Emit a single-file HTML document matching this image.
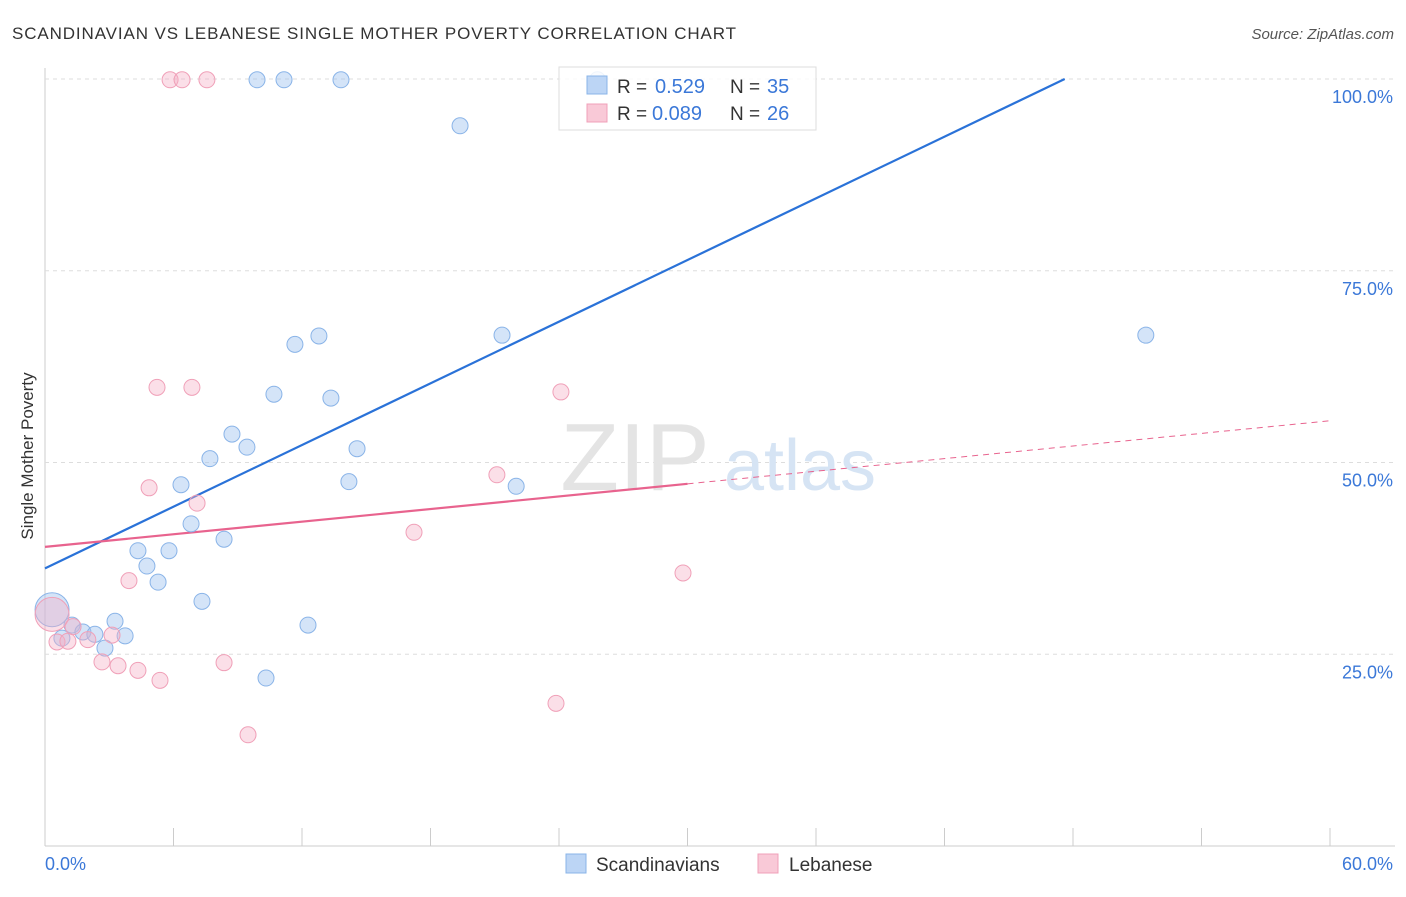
<!DOCTYPE html>
<html><head><meta charset="utf-8"><style>
body{margin:0;background:#fff;font-family:"Liberation Sans",sans-serif;}
svg text{font-family:"Liberation Sans",sans-serif;}
</style></head><body>
<svg id="chart" width="1406" height="892">
<text x="12" y="39" font-size="17" fill="#333" textLength="724">SCANDINAVIAN VS LEBANESE SINGLE MOTHER POVERTY CORRELATION CHART</text>
<text x="1394" y="39" font-size="15" fill="#555" text-anchor="end" font-style="italic">Source: ZipAtlas.com</text>
<text x="0" y="0" font-size="17" fill="#333" text-anchor="middle" transform="translate(33,456) rotate(-90)">Single Mother Poverty</text>
<g id="grid"></g>
<g id="watermark">
<text x="635" y="490" font-size="96" fill="#e4e4e4" text-anchor="middle" font-family="Liberation Serif">ZIP</text>
<text x="800" y="490" font-size="72" fill="#d6e4f4" text-anchor="middle">atlas</text>
</g>
<g id="lines"></g>
<g id="points"></g>
<g id="legend">
<rect x="559" y="67" width="257" height="63" fill="rgba(255,255,255,0.85)" stroke="#ddd"/>
<rect x="587" y="76" width="20" height="18" fill="#bcd5f5" stroke="#8ab4e8"/>
<text x="617" y="93" font-size="19" fill="#333">R =</text>
<text x="655" y="93" font-size="20" fill="#3b78d8">0.529</text>
<text x="730" y="93" font-size="19" fill="#333">N =</text>
<text x="767" y="93" font-size="20" fill="#3b78d8">35</text>
<rect x="587" y="104" width="20" height="18" fill="#f9c9d7" stroke="#f0a0b8"/>
<text x="617" y="120" font-size="19" fill="#333">R =</text>
<text x="652" y="120" font-size="20" fill="#3b78d8">0.089</text>
<text x="730" y="120" font-size="19" fill="#333">N =</text>
<text x="767" y="120" font-size="20" fill="#3b78d8">26</text>
</g>
<g id="bottom-legend">
<rect x="566" y="854" width="20" height="19" fill="#bcd5f5" stroke="#8ab4e8"/>
<text x="596" y="871" font-size="19" fill="#333">Scandinavians</text>
<rect x="758" y="854" width="20" height="19" fill="#f9c9d7" stroke="#f0a0b8"/>
<text x="789" y="871" font-size="19" fill="#333">Lebanese</text>
</g>
</svg>
<script>
const yTicks=[25,50,75,100];
const yTickLabels=["25.0%","50.0%","75.0%","100.0%"];
const xTicks=[0,6,12,18,24,30,36,42,48,54,60];
const blueX=[0.33,1.26,0.79,1.77,2.33,2.8,3.27,3.74,4.34,4.76,5.28,5.79,6.35,6.82,7.33,7.7,8.36,8.73,9.43,10.32,10.69,11.67,12.28,12.79,13.35,14.19,14.57,9.9,11.16,13.82,19.38,21.34,22.0,25.8,51.4];
const blueY=[30.8,28.8,27.1,27.9,27.6,25.8,29.3,27.4,38.5,36.5,34.4,38.5,47.1,42.0,31.9,50.5,40.0,53.7,52.0,21.9,58.9,65.4,28.8,66.5,58.4,47.5,51.8,99.9,99.9,99.9,93.9,66.6,46.9,99.9,66.6];
const pinkX=[0.33,0.56,1.07,1.31,2.0,2.66,3.13,3.41,3.92,4.34,4.86,5.23,5.37,5.84,6.4,6.86,7.1,7.56,8.36,9.48,17.23,21.1,23.86,24.09,29.79];
const pinkY=[30.2,26.6,26.7,28.6,26.9,24.0,27.5,23.5,34.6,22.9,46.7,59.8,21.6,99.9,99.9,59.8,44.7,99.9,23.9,14.5,40.9,48.4,18.6,59.2,35.6];
const blueFit=[36.2,1.34];
const pinkFit=[39.0,0.274];
const NS="http://www.w3.org/2000/svg";
function sx(v){return 45+v*(1285/60);}
function sy(v){return 846-v*7.67;}
function mk(tag,attrs,parent){const e=document.createElementNS(NS,tag);for(const k in attrs)e.setAttribute(k,attrs[k]);parent.appendChild(e);return e;}
const grid=document.getElementById('grid');
let a=mk('line',{x1:45,y1:68,x2:45,y2:846,stroke:'#ccc'},grid);


a=mk('line',{x1:45,y1:846,x2:1395,y2:846,stroke:'#ccc'},grid);


yTicks.forEach((t,i)=>{
 const g=mk('line',{x1:45,y1:sy(t),x2:1395,y2:sy(t),stroke:'#ddd','stroke-dasharray':'4,4'},grid);
 
 
 const l=mk('text',{x:1393,y:sy(t)+24,'font-size':18,fill:'#3b78d8','text-anchor':'end'},grid);
 l.textContent=yTickLabels[i];
 
 
});
xTicks.forEach(t=>{
 const k=mk('line',{x1:sx(t),y1:828,x2:sx(t),y2:846,stroke:'#ccc'},grid);
 
 
});
let t0=mk('text',{x:45,y:870,'font-size':18,fill:'#3b78d8'},grid);t0.textContent='0.0%';


let t1=mk('text',{x:1393,y:870,'font-size':18,fill:'#3b78d8','text-anchor':'end'},grid);t1.textContent='60.0%';


const pts=document.getElementById('points');
function drawPts(xs,ys,fill,stroke,name){
 xs.forEach((x,i)=>{
  const r=i===0?17:8;
  const c=mk('circle',{cx:sx(x),cy:sy(ys[i]),r:r,fill:fill,stroke:stroke,'stroke-width':1},pts);
  
  
 });
}
drawPts(blueX,blueY,'rgba(160,195,240,0.45)','#8ab4e8','scandinavian-point');
drawPts(pinkX,pinkY,'rgba(245,175,198,0.4)','#f0a0b8','lebanese-point');
const lines=document.getElementById('lines');
const bxEnd=(100-blueFit[0])/blueFit[1];
let bl=mk('line',{x1:sx(0),y1:sy(blueFit[0]),x2:sx(bxEnd),y2:sy(100),stroke:'#2a72d8','stroke-width':2.2},lines);


let pl=mk('line',{x1:sx(0),y1:sy(pinkFit[0]),x2:sx(30),y2:sy(pinkFit[0]+pinkFit[1]*30),stroke:'#e8638e','stroke-width':2.2},lines);


let pd=mk('line',{x1:sx(30),y1:sy(pinkFit[0]+pinkFit[1]*30),x2:sx(60),y2:sy(pinkFit[0]+pinkFit[1]*60),stroke:'#e8638e','stroke-width':1,'stroke-dasharray':'6,5'},lines);


</script>
</body></html>
